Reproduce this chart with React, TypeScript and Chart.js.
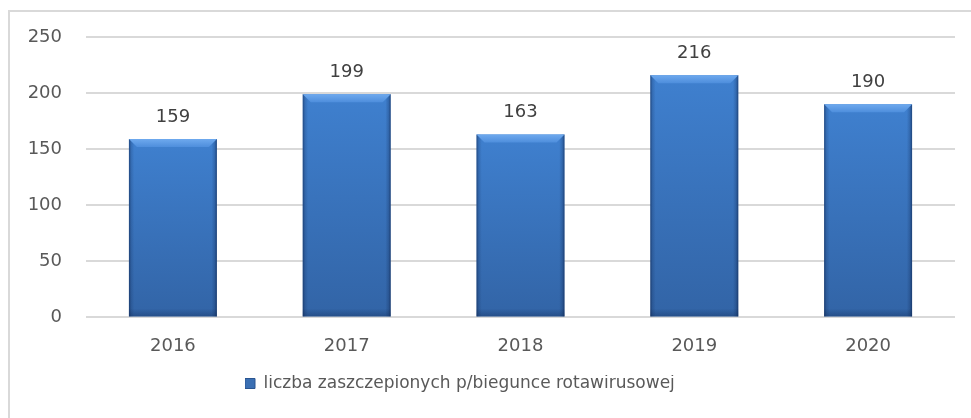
import React, { useEffect, useRef } from "react";
import { Chart, registerables } from "chart.js";

Chart.register(...registerables);

const years = ["2016", "2017", "2018", "2019", "2020"];
const vaccinated = [159, 199, 163, 216, 190];
const seriesLabel = "liczba zaszczepionych p/biegunce rotawirusowej";
const yMin = 0;
const yMax = 250;
const yStep = 50;

const FONT = "'DejaVu Sans', sans-serif";
const TEXT = "#595959";

const barStyle = {
  id: "barStyle",
  afterDatasetsDraw(chart: any) {
    const ctx = chart.ctx;
    const meta = chart.getDatasetMeta(0);
    meta.data.forEach((bar: any) => {
      const { x, y, base, width } = bar.getProps(["x", "y", "base", "width"], true);
      const l = x - width / 2;
      const r = x + width / 2;
      ctx.save();
      // side shading
      const hg = ctx.createLinearGradient(l, 0, r, 0);
      hg.addColorStop(0, "rgba(10,30,70,0.55)");
      hg.addColorStop(0.025, "rgba(10,30,70,0.18)");
      hg.addColorStop(0.06, "rgba(10,30,70,0)");
      hg.addColorStop(0.94, "rgba(10,30,70,0)");
      hg.addColorStop(0.975, "rgba(10,30,70,0.22)");
      hg.addColorStop(1, "rgba(10,30,70,0.6)");
      ctx.fillStyle = hg;
      ctx.fillRect(l, y, width, base - y);
      // bottom shading
      const vg = ctx.createLinearGradient(0, base - 8, 0, base);
      vg.addColorStop(0, "rgba(10,30,70,0)");
      vg.addColorStop(1, "rgba(10,30,70,0.3)");
      ctx.fillStyle = vg;
      ctx.fillRect(l, base - 8, width, 8);
      // top bevel
      const b = 8;
      const tg = ctx.createLinearGradient(0, y, 0, y + b);
      tg.addColorStop(0, "#6ea9ee");
      tg.addColorStop(1, "#4e8edc");
      ctx.beginPath();
      ctx.moveTo(l, y);
      ctx.lineTo(r, y);
      ctx.lineTo(r - b, y + b);
      ctx.lineTo(l + b, y + b);
      ctx.closePath();
      ctx.fillStyle = tg;
      ctx.fill();
      // value label
      ctx.fillStyle = "#404040";
      ctx.font = `18px ${FONT}`;
      ctx.textAlign = "center";
      ctx.textBaseline = "middle";
      ctx.fillText(String(bar.$context?.raw ?? ""), x, y - 22);
      ctx.restore();
    });
  },
};

const legendShift = {
  id: "legendShift",
  afterLayout(chart: any) {
    const lg = chart.legend;
    if (!lg) return;
    const w = lg.right - lg.left;
    lg.left = 235;
    lg.right = lg.left + w;
  },
};

export default function App() {
  const ref = useRef<HTMLCanvasElement | null>(null);

  useEffect(() => {
    if (!ref.current) return;
    const chart = new Chart(ref.current, {
      type: "bar",
      data: {
        labels: years,
        datasets: [
          {
            label: seriesLabel,
            data: vaccinated,
            backgroundColor: (c: any) => {
              const ch = c.chart;
              const ys = ch.scales?.y;
              if (!ys || c.type !== "data") return "#3a6fb3";
              const top = ys.getPixelForValue(c.raw);
              const base = ys.getPixelForValue(0);
              if (!isFinite(top) || !isFinite(base)) return "#3a6fb3";
              const g = ch.ctx.createLinearGradient(0, top, 0, base);
              g.addColorStop(0, "#3f80cf");
              g.addColorStop(1, "#3264a6");
              return g;
            },
            borderWidth: 0,
            categoryPercentage: 1,
            barPercentage: 0.506,
          },
        ],
      },
      options: {
        responsive: false,
        animation: false,
        layout: { padding: { top: 25, right: 16, bottom: 16, left: 0 } },
        scales: {
          x: {
            grid: { display: false, drawTicks: false },
            border: { display: false },
            ticks: { color: TEXT, font: { family: FONT, size: 18 }, padding: 18 },
          },
          y: {
            min: yMin,
            max: yMax,
            grid: { color: "#d9d9d9", lineWidth: 2, drawTicks: false },
            border: { display: false },
            ticks: {
              stepSize: yStep,
              color: TEXT,
              font: { family: FONT, size: 18 },
              padding: 24,
            },
            afterFit: (s: any) => {
              s.width = 76;
              s.paddingTop = 0;
              s.paddingBottom = 0;
            },
          },
        },
        plugins: {
          tooltip: { enabled: false },
          legend: {
            position: "bottom",
            align: "start",
            labels: {
              color: TEXT,
              font: { family: FONT, size: 17 },
              boxWidth: 10,
              boxHeight: 10,
              padding: 0,
              generateLabels: (ch: any) =>
                Chart.defaults.plugins.legend.labels.generateLabels(ch).map((it: any) => ({
                  ...it,
                  fillStyle: "#3a6fb3",
                  strokeStyle: "#2a5590",
                  lineWidth: 1,
                })),
            },
          },
        },
      },
      plugins: [barStyle, legendShift],
    });
    return () => chart.destroy();
  }, []);

  return (
    <div
      style={{
        position: "absolute",
        left: 8,
        top: 10,
        borderLeft: "2px solid #d9d9d9",
        borderTop: "2px solid #d9d9d9",
        width: 961,
        height: 406,
      }}
    >
      <canvas ref={ref} width={961} height={406} style={{ display: "block", width: 961, height: 406 }} />
    </div>
  );
}
